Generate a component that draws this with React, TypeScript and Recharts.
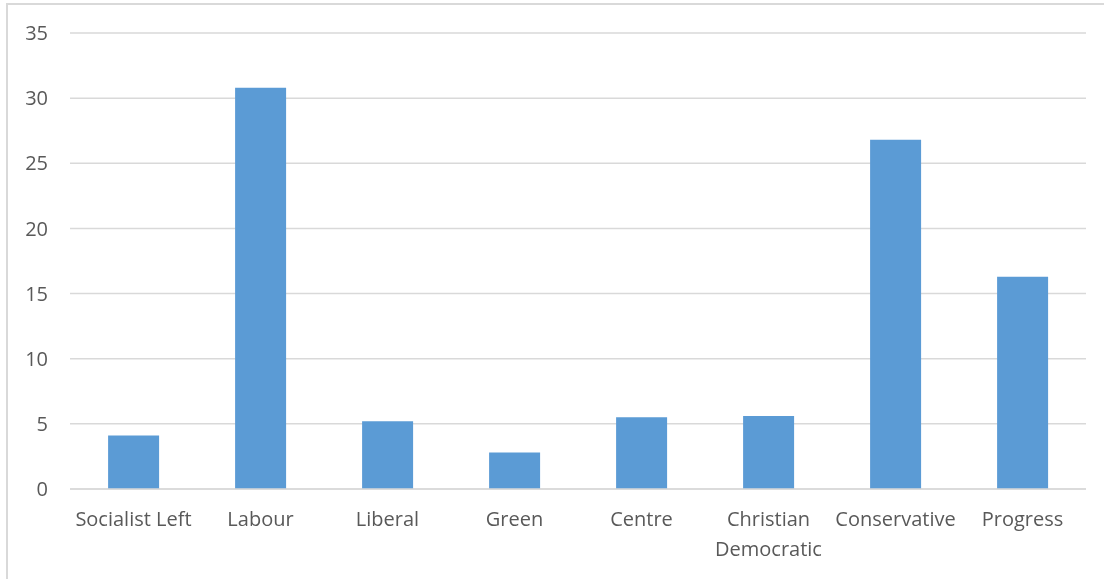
import React from "react";
import { Bar, BarChart, CartesianGrid, Text, XAxis, YAxis } from "recharts";

const parties = [
  "Socialist Left",
  "Labour",
  "Liberal",
  "Green",
  "Centre",
  "Christian Democratic",
  "Conservative",
  "Progress",
];
const votes = [4.1, 30.8, 5.2, 2.8, 5.5, 5.6, 26.8, 16.3];
const yTicks = [0, 5, 10, 15, 20, 25, 30, 35];

const data = parties.map((name, i) => ({ name, value: votes[i] }));

const FONT = "'Open Sans', sans-serif";

const PartyTick = (props: any) => {
  const { x, y, payload } = props;
  return (
    <Text
      x={x}
      y={y + 23}
      width={125}
      textAnchor="middle"
      verticalAnchor="start"
      lineHeight={30}
      fill="#595959"
      fontSize={20}
      fontFamily={FONT}
    >
      {payload.value}
    </Text>
  );
};

export default function App() {
  return (
    <div style={{ position: "relative", width: 1096, height: 571 }}>
      {/* chart frame, runs past the right and bottom edge like the original */}
      <div
        style={{
          position: "fixed",
          left: 6,
          top: 3,
          width: 1120,
          height: 600,
          border: "2px solid #d9d9d9",
          boxSizing: "border-box",
        }}
      />
      <div style={{ position: "absolute", left: 0, top: -3 }}>
        <BarChart
          width={1096}
          height={575}
          data={data}
          margin={{ top: 28, right: 18, left: 0, bottom: 31 }}
          barCategoryGap="30%"
        >
          <CartesianGrid vertical={false} stroke="#d9d9d9" strokeWidth={1.5} />
          <XAxis
            dataKey="name"
            height={60}
            interval={0}
            tickLine={false}
            axisLine={{ stroke: "#d9d9d9", strokeWidth: 1.5 }}
            tickSize={0}
            tickMargin={0}
            tick={<PartyTick />}
          />
          <YAxis
            width={62}
            domain={[0, 35]}
            ticks={yTicks}
            axisLine={false}
            tickLine={false}
            tickSize={0}
            tickMargin={22}
            tick={{ fill: "#595959", fontSize: 20, fontFamily: FONT }}
          />
          <Bar dataKey="value" fill="#5b9bd5" isAnimationActive={false} />
        </BarChart>
      </div>
    </div>
  );
}
